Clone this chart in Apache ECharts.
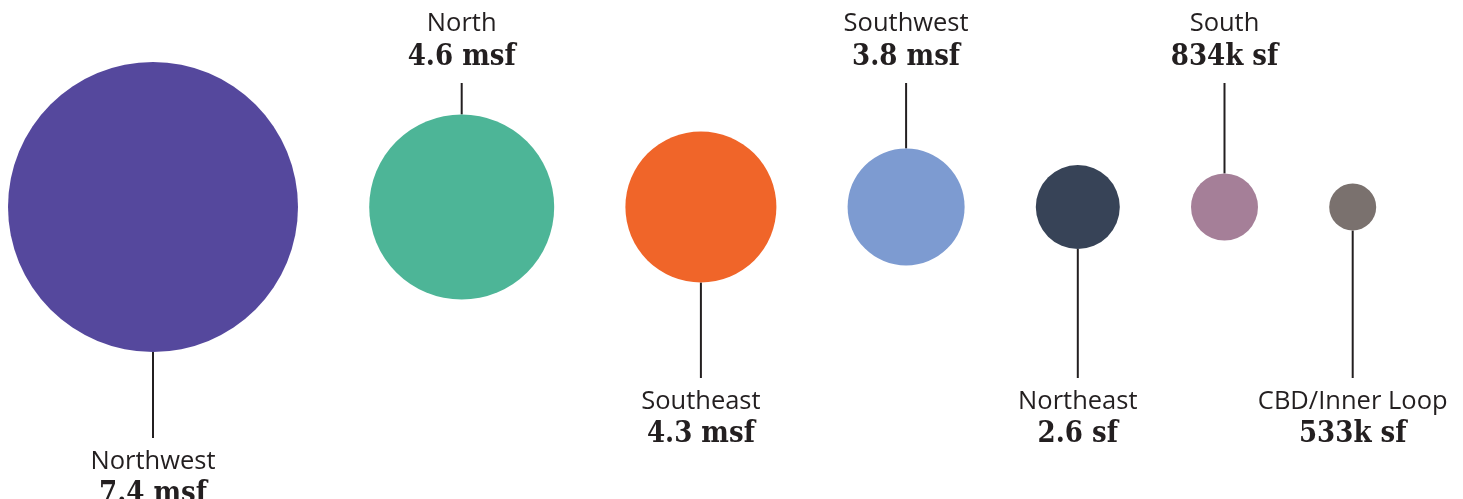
<!DOCTYPE html>
<html><head><meta charset="utf-8">
<script src="https://cdn.jsdelivr.net/npm/echarts@6/dist/echarts.min.js"></script>
<style>html,body{margin:0;padding:0;background:#fff}#c{width:1463px;height:499px}</style>
</head><body><div id="c"></div>
<script>
// ---- data ----
const regions = ['Northwest', 'North', 'Southeast', 'Southwest', 'Northeast', 'South', 'CBD/Inner Loop'];
const valueLabels = ['7.4 msf', '4.6 msf', '4.3 msf', '3.8 msf', '2.6 sf', '834k sf', '533k sf'];
const valuesMsf = [7.4, 4.6, 4.3, 3.8, 2.6, 0.834, 0.533];
const labelSide = ['bottom', 'top', 'bottom', 'top', 'bottom', 'top', 'bottom'];
const bubbleDiameters = [290, 185, 151, 117, 84, 67, 47];
const colors = ['#55489d', '#4db597', '#f06529', '#7d9bd1', '#374357', '#a57f98', '#7a716e'];

// ---- layout ----
const W = 1463, H = 499;
const startX = 8, gap = 71.2, centerY = 207;
const centers = [];
let acc = startX;
bubbleDiameters.forEach((d, i) => { centers.push(acc + d / 2); acc += d + gap; });

const pts = regions.map((r, i) => [centers[i], centerY, bubbleDiameters[i], valuesMsf[i]]);

const chart = echarts.init(document.getElementById('c'), null, {renderer: 'canvas'});
chart.setOption({
  animation: false,
  grid: {left: 0, right: 0, top: 0, bottom: 0},
  xAxis: {type: 'value', min: 0, max: W, show: false},
  yAxis: {type: 'value', min: 0, max: H, inverse: true, show: false},
  series: [
    {
      type: 'scatter',
      data: pts.map((p, i) => ({name: regions[i], value: p, symbolSize: bubbleDiameters[i], itemStyle: {color: colors[i], opacity: 1}})),
      silent: true
    },
    {
      type: 'custom',
      data: pts,
      silent: true,
      renderItem(params, api) {
        const i = params.dataIndex;
        const p = api.coord([api.value(0), api.value(1)]);
        const r = api.value(2) / 2;
        const top = labelSide[i] === 'top';
        const start = top ? p[1] - r : p[1] + r;
        const end = top ? 83 : Math.max(378, p[1] + r + 86);
        const nameY = top ? end - 59 : end + 24;
        const valY = top ? end - 26 : end + 56;
        return {type: 'group', children: [
          {type: 'line', shape: {x1: p[0], y1: start, x2: p[0], y2: end}, style: {stroke: '#231f20', lineWidth: 2}},
          {type: 'text', x: p[0], y: nameY, style: {text: regions[i], fontFamily: '"Open Sans"', fontSize: 25.5, fill: '#231f20', align: 'center', verticalAlign: 'middle'}},
          {type: 'text', x: p[0], y: valY, style: {text: valueLabels[i], fontFamily: '"DejaVu Serif Condensed", "DejaVu Serif"', fontWeight: 'bold', fontSize: 29, fill: '#231f20', align: 'center', verticalAlign: 'middle'}}
        ]};
      }
    }
  ]
});
</script>
</body></html>
